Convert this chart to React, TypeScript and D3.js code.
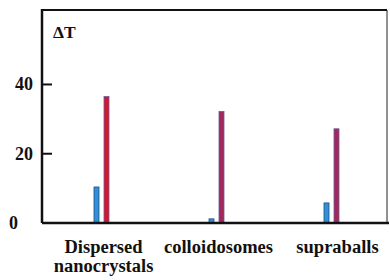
import React from "react";
import * as d3 from "d3";

const width = 390;
const height = 280;

// categories and values
const categories = ["Dispersed nanocrystals", "colloidosomes", "supraballs"];
const labelLines = [["Dispersed", "nanocrystals"], ["colloidosomes"], ["supraballs"]];
const seriesKeys = ["blue", "red"];
const blueValues = [10.4, 1.2, 5.8];
const redValues = [36.5, 32.2, 27.2];
const redFills = ["#d3182e", "#a1285a", "#a1285a"];
const yTicks = [0, 20, 40];

const frame = { left: 42, top: 10, right: 387, bottom: 223 };

const App = () => {
  const x = d3.scaleBand().domain(categories).range([44, 389]).padding(0);
  const inner = d3.scaleBand().domain(seriesKeys).range([-7.5, 7.5]).paddingInner(0.5);
  const y = d3.scaleLinear().domain([0, 61.5]).range([frame.bottom, frame.top]);

  const font = "'Liberation Serif', 'Times New Roman', serif";

  return (
    <svg width={width} height={height} style={{ position: "absolute", left: 0, top: 0 }}>
      <rect width={width} height={height} fill="white" />

      {/* bars */}
      {categories.map((c, i) => {
        const cx = (x(c) as number) + x.bandwidth() / 2;
        const bx = cx + (inner("blue") as number);
        const rx = cx + (inner("red") as number);
        return (
          <g key={c}>
            <rect x={bx} y={y(blueValues[i])} width={inner.bandwidth()} height={y(0) - y(blueValues[i])}
              fill="#3090da" stroke="#1f4e80" strokeWidth={0.8} />
            <rect x={rx} y={y(redValues[i])} width={inner.bandwidth()} height={y(0) - y(redValues[i])}
              fill={redFills[i]} stroke="#6a5a9a" strokeWidth={0.8} />
          </g>
        );
      })}

      {/* frame */}
      <line x1={frame.left} y1={frame.top} x2={frame.right} y2={frame.top} stroke="#111" strokeWidth={2} />
      <line x1={frame.right} y1={frame.top} x2={frame.right} y2={frame.bottom} stroke="#222" strokeWidth={1} />
      <line x1={frame.left} y1={frame.top - 1} x2={frame.left} y2={frame.bottom} stroke="#111" strokeWidth={2.5} />
      <line x1={frame.left} y1={frame.bottom} x2={389} y2={frame.bottom} stroke="#111" strokeWidth={2.5} />

      {/* y ticks */}
      {yTicks.map((t) => (
        <g key={t}>
          {t > 0 && <line x1={frame.left} x2={frame.left + 10} y1={y(t)} y2={y(t)} stroke="#111" strokeWidth={2} />}
          <text x={t === 0 ? 18 : 33} y={y(t) + 6} textAnchor="end" fontFamily={font}
            fontWeight="bold" fontSize={18} fill="#111">{t}</text>
        </g>
      ))}

      <text x={53} y={38} fontFamily={font} fontWeight="bold" fontSize={17.5} fill="#111">ΔT</text>

      {/* category labels */}
      {categories.map((c, i) => {
        const cx = (x(c) as number) + x.bandwidth() / 2 + (i === 2 ? 6 : 2);
        return labelLines[i].map((ln, j) => (
          <text key={c + j} x={cx} y={253 + j * 19} textAnchor="middle" fontFamily={font}
            fontWeight="bold" fontSize={18.5} fill="#111">{ln}</text>
        ));
      })}
    </svg>
  );
};

export default App;
